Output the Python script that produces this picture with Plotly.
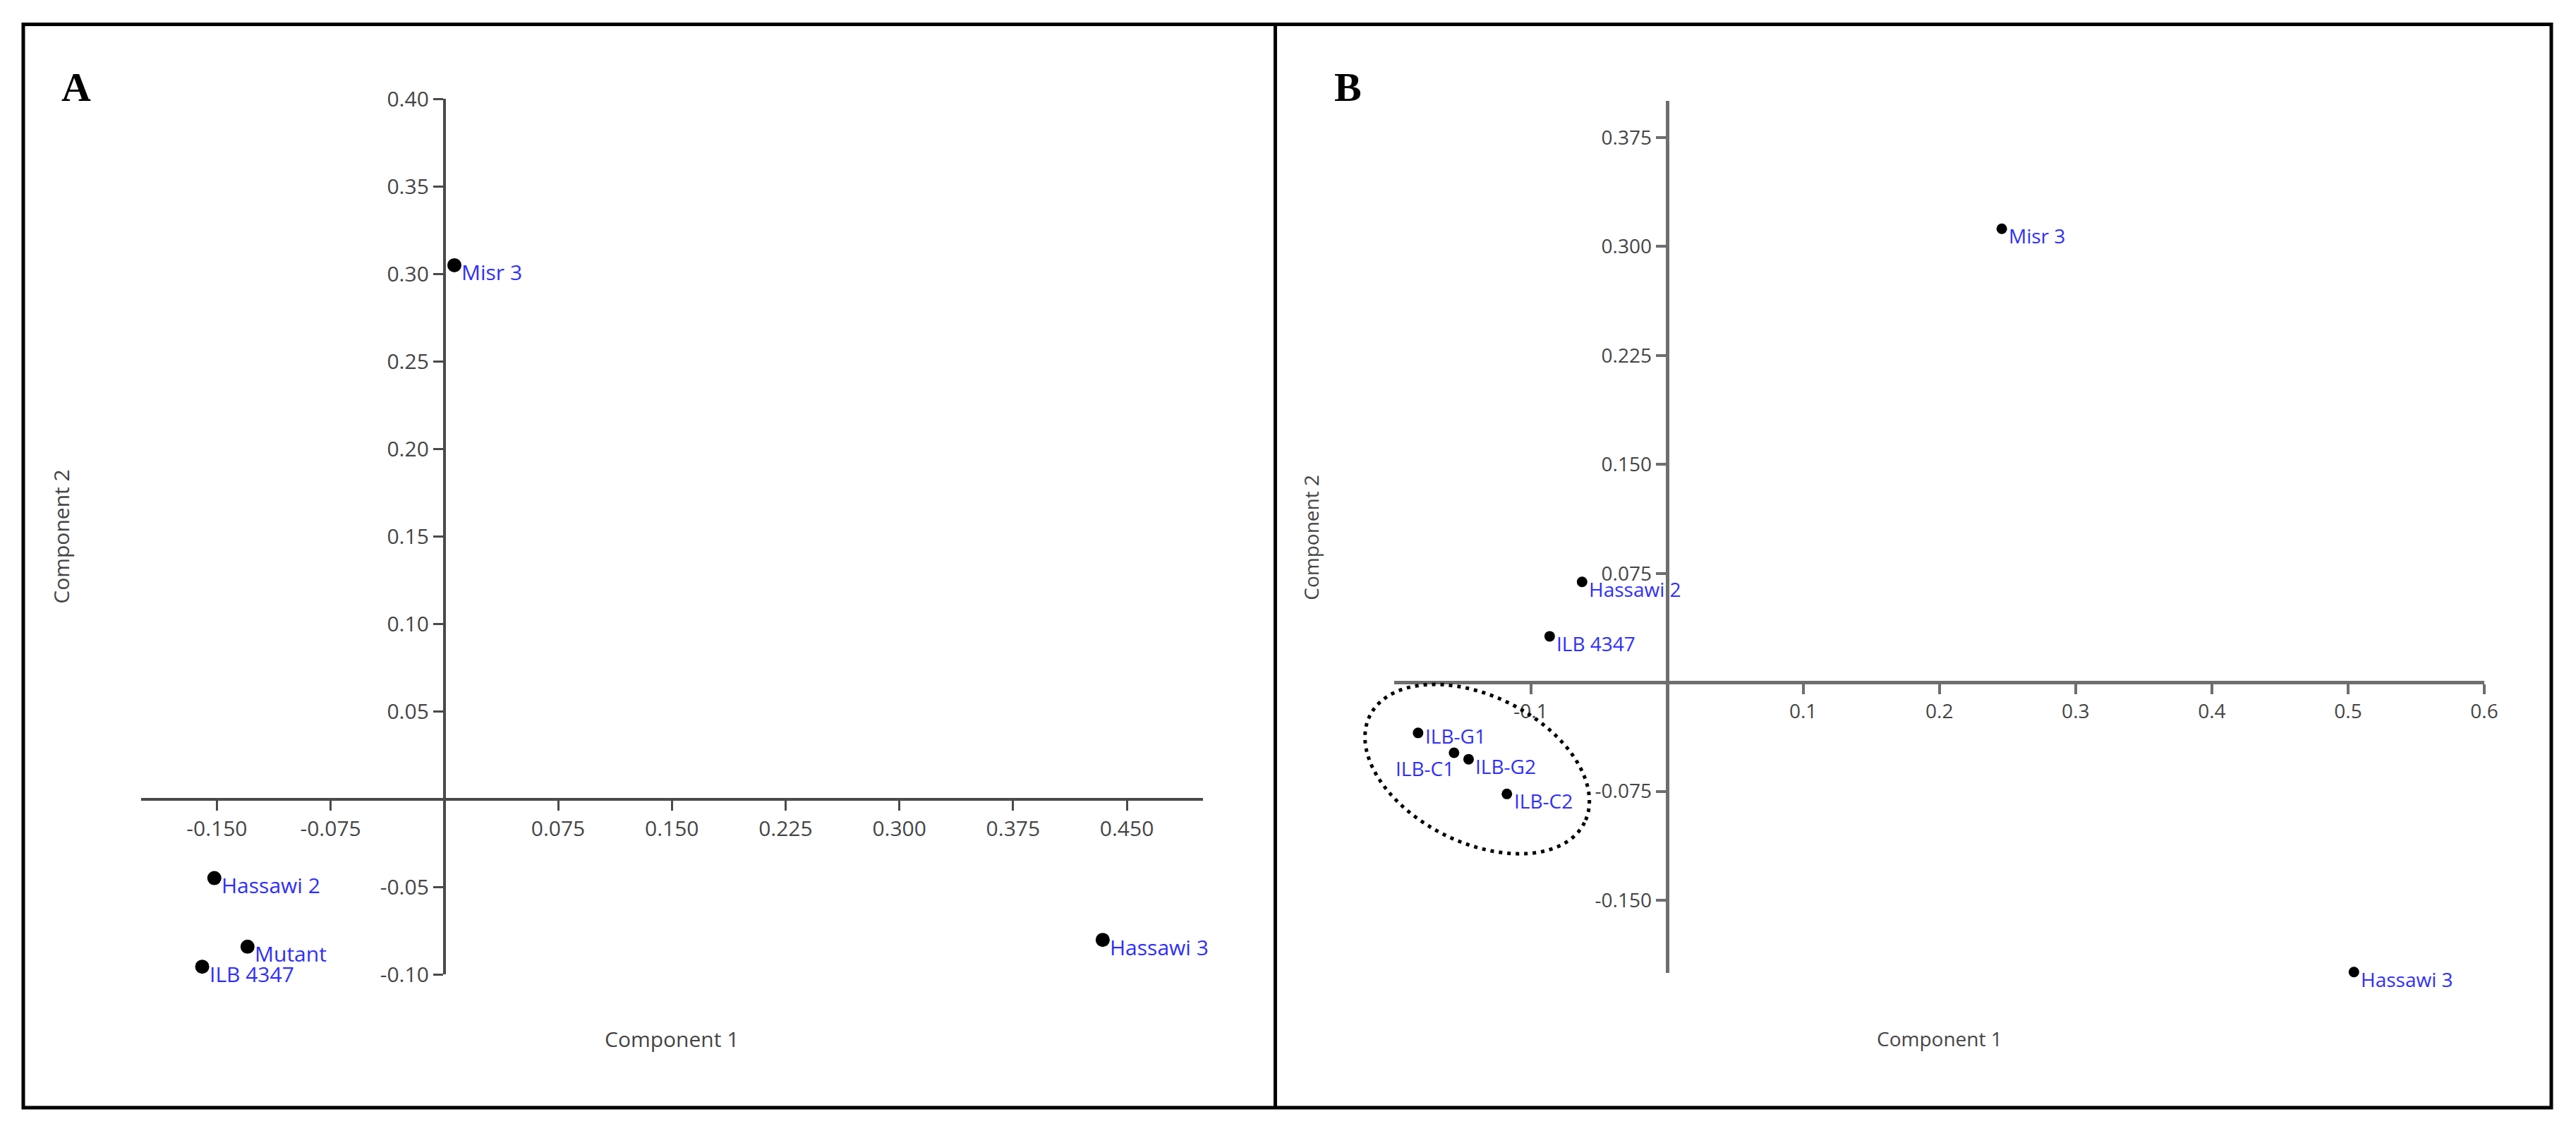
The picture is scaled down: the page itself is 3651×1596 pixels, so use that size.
import math
import plotly.graph_objects as go

# ---------------- data ----------------
A_NAMES = ["Misr 3", "Hassawi 2", "Mutant", "ILB 4347", "Hassawi 3"]
A_PC1 = [0.0066, -0.1517, -0.1298, -0.1597, 0.4341]
A_PC2 = [0.3051, -0.0450, -0.0842, -0.0956, -0.0803]

A_XRANGE = [-0.2, 0.5]
A_YRANGE = [-0.1, 0.4]
A_XTICKS = [-0.150, -0.075, 0.075, 0.150, 0.225, 0.300, 0.375, 0.450]
A_XTICKTEXT = ["-0.150", "-0.075", "0.075", "0.150", "0.225", "0.300", "0.375", "0.450"]
A_YTICKS = [-0.10, -0.05, 0.05, 0.10, 0.15, 0.20, 0.25, 0.30, 0.35, 0.40]
A_YTICKTEXT = ["-0.10", "-0.05", "0.05", "0.10", "0.15", "0.20", "0.25", "0.30", "0.35", "0.40"]

B_NAMES = ["Misr 3", "Hassawi 2", "ILB 4347", "ILB-G1", "ILB-C1", "ILB-G2", "ILB-C2", "Hassawi 3"]
B_PC1 = [0.2458, -0.0623, -0.0861, -0.1827, -0.1563, -0.1456, -0.1175, 0.5043]
B_PC2 = [0.3122, 0.0692, 0.0317, -0.0348, -0.0485, -0.0529, -0.0768, -0.1994]

B_XRANGE = [-0.2, 0.6]
B_YRANGE = [-0.2, 0.4]
B_XTICKS = [-0.1, 0.1, 0.2, 0.3, 0.4, 0.5, 0.6]
B_XTICKTEXT = ["-0.1", "0.1", "0.2", "0.3", "0.4", "0.5", "0.6"]
B_YTICKS = [-0.150, -0.075, 0.075, 0.150, 0.225, 0.300, 0.375]
B_YTICKTEXT = ["-0.150", "-0.075", "0.075", "0.150", "0.225", "0.300", "0.375"]

AXIS_TITLE_X = "Component 1"
AXIS_TITLE_Y = "Component 2"
PANEL_LETTERS = ["A", "B"]

# ---------------- layout / style ----------------
W, H = 3651, 1596
# the captured picture is slightly rescaled vs. the page; positions below are
# target picture pixels and are mapped back to page pixels
SX, SY, OY = 0.9948, 0.974, 19.5


def to_paper(px, py):
    return px / SX / W, 1 - ((py - OY) / SY) / H


BOX_A = dict(x0=200, x1=1705, y0=138, y1=1379)   # target pixel box of plot area A
BOX_B = dict(x0=1977, x1=3522, y0=141, y1=1377)  # target pixel box of plot area B
FONT = "Open Sans"
TXT = "#454545"
BLUE = "#2e2eff"
FS = 1 / 0.985  # font compensation

# label placement (styling): (xanchor, xshift, yshift)
B_LABEL_STYLE = {"ILB-C1": ("right", 2, -22), "ILB-G1": ("left", 8, -4)}


def dom(box):
    xa, ya = to_paper(box["x0"], box["y1"])
    xb, yb = to_paper(box["x1"], box["y0"])
    return [xa, xb], [ya, yb]


def zero_pos(rng, d):
    return d[0] + (0 - rng[0]) / (rng[1] - rng[0]) * (d[1] - d[0])


fig = go.Figure()

panels = [
    dict(names=A_NAMES, x=A_PC1, y=A_PC2, xr=A_XRANGE, yr=A_YRANGE, xt=A_XTICKS, xtt=A_XTICKTEXT,
         yt=A_YTICKS, ytt=A_YTICKTEXT, box=BOX_A, xa="x", ya="y", lc="#4a4a4a", lw=4, ms=20, fs=30, tw=3),
    dict(names=B_NAMES, x=B_PC1, y=B_PC2, xr=B_XRANGE, yr=B_YRANGE, xt=B_XTICKS, xtt=B_XTICKTEXT,
         yt=B_YTICKS, ytt=B_YTICKTEXT, box=BOX_B, xa="x2", ya="y2", lc="#6e6e6e", lw=5, ms=15, fs=28, tw=4),
]

annotations = []
for i, p in enumerate(panels):
    xd, yd = dom(p["box"])
    fs = round(p["fs"] * FS)
    fig.add_trace(go.Scatter(
        x=p["x"], y=p["y"], mode="markers", xaxis=p["xa"], yaxis=p["ya"],
        marker=dict(color="black", size=p["ms"]), cliponaxis=False, showlegend=False,
        hoverinfo="skip"))
    sfx = "" if i == 0 else "2"
    common = dict(showgrid=False, zeroline=False, showline=True, linecolor=p["lc"], linewidth=p["lw"],
                  ticks="outside", ticklen=14, tickwidth=p["tw"], tickcolor=p["lc"],
                  tickfont=dict(family=FONT, size=fs, color=TXT), anchor="free", fixedrange=True)
    fig.update_layout(**{
        "xaxis" + sfx: dict(domain=xd, range=p["xr"], tickvals=p["xt"], ticktext=p["xtt"],
                            position=zero_pos(p["yr"], yd), side="bottom", **common),
        "yaxis" + sfx: dict(domain=yd, range=p["yr"], tickvals=p["yt"], ticktext=p["ytt"],
                            position=zero_pos(p["xr"], xd), side="left", **common),
    })
    # point labels
    for n, xv, yv in zip(p["names"], p["x"], p["y"]):
        xanc, xs, ys = ("left", 8, -10)
        if i == 1 and n in B_LABEL_STYLE:
            xanc, xs, ys = B_LABEL_STYLE[n]
        annotations.append(dict(x=xv, y=yv, xref=p["xa"], yref=p["ya"], text=n, showarrow=False,
                                xanchor=xanc, yanchor="middle", xshift=xs, yshift=ys,
                                font=dict(family=FONT, size=fs, color=BLUE)))
    # axis titles
    cx = (p["box"]["x0"] + p["box"]["x1"]) / 2
    cy = (p["box"]["y0"] + p["box"]["y1"]) / 2
    ax_, ay_ = to_paper(cx, 1470)
    annotations.append(dict(x=ax_, y=ay_, xref="paper", yref="paper", text=AXIS_TITLE_X,
                            showarrow=False, xanchor="center", yanchor="middle",
                            font=dict(family=FONT, size=fs, color=TXT)))
    tx = 87 if i == 0 else 1859
    bx_, by_ = to_paper(tx, cy)
    annotations.append(dict(x=bx_, y=by_, xref="paper", yref="paper", text=AXIS_TITLE_Y,
                            showarrow=False, xanchor="center", yanchor="middle", textangle=-90,
                            font=dict(family=FONT, size=fs, color=TXT)))
    # panel letter
    lx = 108 if i == 0 else 1911
    px_, py_ = to_paper(lx, 121)
    annotations.append(dict(x=px_, y=py_, xref="paper", yref="paper",
                            text="<b>" + PANEL_LETTERS[i] + "</b>", showarrow=False,
                            xanchor="center", yanchor="middle",
                            font=dict(family="Liberation Serif", size=round(57 * FS), color="black")))

# dotted ellipse around the ILB cluster (panel B), drawn in paper space so it is not clipped
ELL_CX, ELL_CY = -0.1393, -0.0597
ELL_A_PX, ELL_B_PX, ELL_ANGLE = 170, 104, 26.5
px_x = (BOX_B["x1"] - BOX_B["x0"]) / (B_XRANGE[1] - B_XRANGE[0])
px_y = (BOX_B["y1"] - BOX_B["y0"]) / (B_YRANGE[1] - B_YRANGE[0])
ccx = BOX_B["x0"] + (ELL_CX - B_XRANGE[0]) * px_x
ccy = BOX_B["y1"] - (ELL_CY - B_YRANGE[0]) * px_y
th = math.radians(ELL_ANGLE)
pts = []
for k in range(241):
    t = 2 * math.pi * k / 240
    dx = ELL_A_PX * math.cos(t) * math.cos(th) - ELL_B_PX * math.sin(t) * math.sin(th)
    dy = ELL_A_PX * math.cos(t) * math.sin(th) + ELL_B_PX * math.sin(t) * math.cos(th)
    pts.append(to_paper(ccx + dx, ccy + dy))
path = "M " + " L ".join(f"{a:.6f},{b:.6f}" for a, b in pts) + " Z"

fx0, fy0 = to_paper(33, 1568)
fx1, fy1 = to_paper(3617, 32)
dvx, _ = to_paper(1808, 0)
shapes = [
    dict(type="path", path=path, xref="paper", yref="paper",
         line=dict(color="black", width=5, dash="5px,7px")),
    dict(type="rect", xref="paper", yref="paper", x0=fx0, x1=fx1, y0=fy0, y1=fy1,
         line=dict(color="black", width=5)),
    dict(type="line", xref="paper", yref="paper", x0=dvx, x1=dvx, y0=fy0, y1=fy1,
         line=dict(color="black", width=5)),
]

fig.update_layout(width=W, height=H, margin=dict(l=0, r=0, t=0, b=0), paper_bgcolor="white",
                  plot_bgcolor="white", annotations=annotations, shapes=shapes, showlegend=False)

POST = ("document.body.style.margin='0';document.body.style.padding='0';"
        "document.body.style.overflow='hidden';"
        "var d=document.getElementById('{plot_id}');"
        "d.style.position='absolute';d.style.left='0px';d.style.top='0px';")

fig.write_html("out.html", post_script=POST, config={"displayModeBar": False})
